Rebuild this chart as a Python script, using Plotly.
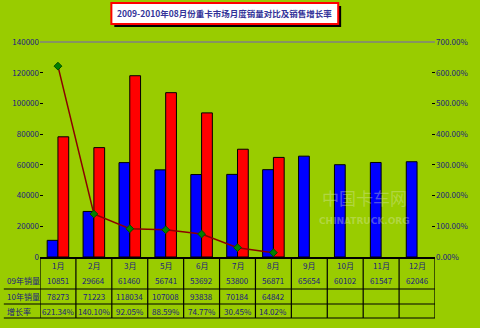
import plotly.graph_objects as go

months = ["1月", "2月", "3月", "5月", "6月", "7月", "8月", "9月", "10月", "11月", "12月"]
sales_2009 = [10851, 29664, 61460, 56741, 53692, 53800, 56871, 65654, 60102, 61547, 62046]
sales_2010 = [78273, 71223, 118034, 107008, 93838, 70184, 64842, None, None, None, None]
growth = [621.34, 140.10, 92.05, 88.59, 74.77, 30.45, 14.02, None, None, None, None]
row_labels = ["09年销量", "10年销量", "增长率"]
title_text = "2009-2010年08月份重卡市场月度销量对比及销售增长率"

BG = "#99CC00"
TXT = "#1a1a80"
FONT = "Noto Sans CJK SC, DejaVu Sans, sans-serif"

L, R, T, B = 40, 36, 42, 71
W, H = 480, 328
PW, PH = W - L - R, H - T - B

def px(x):
    return (x - L) / PW

def py(y):
    return (H - B - y) / PH

fig = go.Figure()
fig.add_trace(go.Bar(x=months, y=sales_2009, name="09年销量", marker=dict(color="#0000FF", line=dict(color="black", width=1))))
fig.add_trace(go.Bar(x=months, y=sales_2010, name="10年销量", marker=dict(color="#FF0000", line=dict(color="black", width=1))))
fig.add_trace(go.Scatter(x=months, y=growth, name="增长率", yaxis="y2", mode="lines+markers",
                         line=dict(color="#8B0000", width=1.5),
                         marker=dict(symbol="diamond", size=6, color="#008000", line=dict(color="#004d00", width=1))))

shapes = []
shapes.append(dict(type="rect", xref="paper", yref="paper", x0=px(116), x1=px(348), y0=py(6), y1=py(27), fillcolor="black", line=dict(width=0), layer="above"))
shapes.append(dict(type="rect", xref="paper", yref="paper", x0=px(113), x1=px(345), y0=py(3), y1=py(24), fillcolor="white", line=dict(color="#FF0000", width=2), layer="above"))
shapes.append(dict(type="line", xref="paper", yref="paper", x0=0, x1=1, y0=1, y1=1, line=dict(color="#808080", width=1.5)))
for i in range(len(months) + 1):
    shapes.append(dict(type="line", xref="x", yref="paper", x0=i - 0.5, x1=i - 0.5, y0=0, y1=py(318), line=dict(color="black", width=1.2)))
for yy in (289, 304, 318):
    shapes.append(dict(type="line", xref="paper", yref="paper", x0=px(3), x1=1, y0=py(yy), y1=py(yy), line=dict(color="black", width=1.2)))

def note(x, y, text, xref="x", xanchor="center", size=8, color=TXT, family=FONT):
    return dict(xref=xref, yref="paper", x=x, y=y, text=text, showarrow=False, xanchor=xanchor, yanchor="middle",
                font=dict(size=size, color=color, family=family))

ann = []
ann.append(note(px(229), py(13.5), "<b>" + title_text + "</b>", xref="paper", size=8.5, color="#333399"))
rows_y = [280, 296, 311]
for i, m in enumerate(months):
    ann.append(note(m, py(265), m))
    ann.append(note(m, py(rows_y[0]), str(sales_2009[i])))
    if sales_2010[i] is not None:
        ann.append(note(m, py(rows_y[1]), str(sales_2010[i])))
    if growth[i] is not None:
        ann.append(note(m, py(rows_y[2]), "%.2f%%" % growth[i]))
for lab, yy in zip(row_labels, rows_y):
    ann.append(note(px(4), py(yy), lab, xref="paper", xanchor="left"))
ann.append(note(px(372), py(197), "中国卡车网", xref="paper", size=17, color="rgba(225,235,190,0.35)"))
ann.append(note(px(372), py(221), "<b>CHINATRUCK.ORG</b>", xref="paper", size=9, color="rgba(225,235,190,0.35)", family="DejaVu Sans"))

fig.update_layout(
    width=W, height=H, margin=dict(l=L, r=R, t=T, b=B),
    paper_bgcolor=BG, plot_bgcolor=BG,
    barmode="group", bargap=0.4, bargroupgap=0,
    showlegend=False,
    font=dict(family=FONT, color=TXT, size=8),
    xaxis=dict(type="category", showticklabels=False, showline=True, linecolor="black", linewidth=1.5,
               ticks="", showgrid=False, range=[-0.5, len(months) - 0.5]),
    yaxis=dict(range=[0, 140000], dtick=20000, tickformat="d", showgrid=False, zeroline=False,
               ticks="inside", ticklen=3, tickcolor="black", tickfont=dict(size=8, color=TXT)),
    yaxis2=dict(range=[0, 700], dtick=100, tickformat=".2f", ticksuffix="%", overlaying="y", side="right",
                showgrid=False, zeroline=False, ticks="inside", ticklen=3, tickcolor="black",
                tickfont=dict(size=8, color=TXT)),
    shapes=shapes, annotations=ann,
)
fig.write_html("out.html")
